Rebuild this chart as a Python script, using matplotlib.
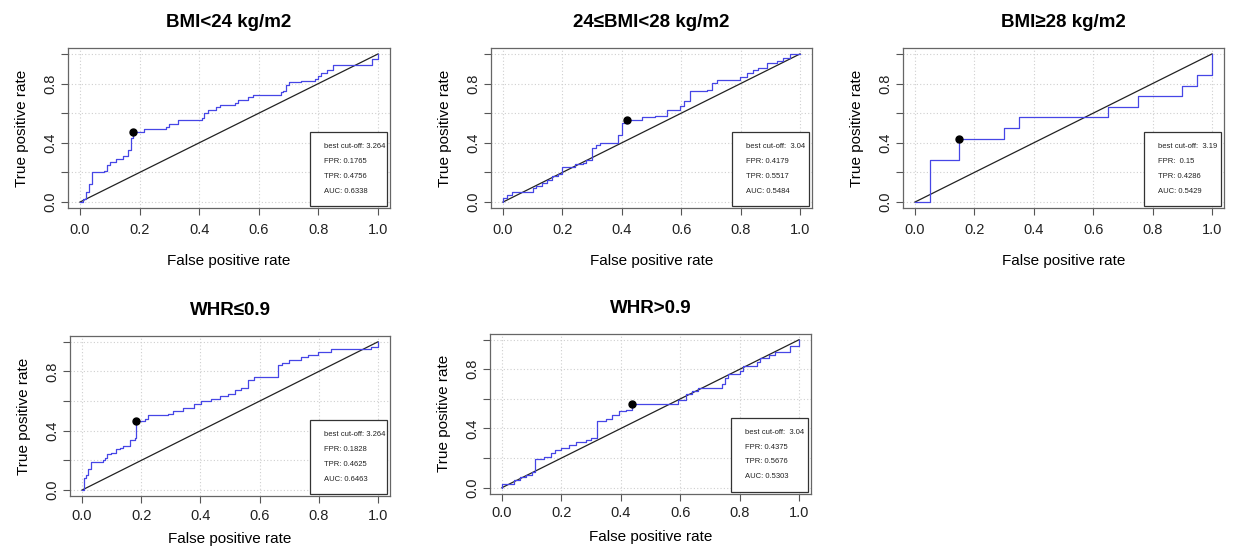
import matplotlib
matplotlib.use("Agg")
import matplotlib.pyplot as plt
from matplotlib.patches import Rectangle

plt.rcParams['font.family'] = ['Liberation Sans', 'DejaVu Sans']

# ---- data (fpr, tpr at the top of each vertical step) ----
titles = ["BMI<24 kg/m2", "24≤BMI<28 kg/m2", "BMI≥28 kg/m2", "WHR≤0.9", "WHR>0.9"]

fpr_bmi_lt24 = [0, 0.01, 0.02, 0.03, 0.04, 0.08, 0.09, 0.10, 0.12, 0.145, 0.16, 0.17, 0.172,
                0.1765, 0.215, 0.29, 0.30, 0.33, 0.41, 0.415, 0.43, 0.455, 0.47, 0.52, 0.53,
                0.565, 0.58, 0.675, 0.68, 0.69, 0.70, 0.74, 0.79, 0.80, 0.81, 0.83, 0.85,
                0.98, 1.0]
tpr_bmi_lt24 = [0, 0.02, 0.07, 0.12, 0.20, 0.21, 0.25, 0.27, 0.29, 0.31, 0.35, 0.39, 0.43,
                0.4756, 0.49, 0.51, 0.53, 0.555, 0.57, 0.60, 0.62, 0.64, 0.655, 0.67, 0.69,
                0.71, 0.72, 0.74, 0.75, 0.79, 0.81, 0.82, 0.83, 0.85, 0.87, 0.89, 0.925,
                0.965, 1.0]

fpr_bmi_24_28 = [0, 0, 0.012, 0.03, 0.10, 0.11, 0.13, 0.147, 0.165, 0.185, 0.20, 0.243, 0.27,
                 0.28, 0.30, 0.313, 0.325, 0.388, 0.40, 0.4179, 0.467, 0.512, 0.551, 0.596,
                 0.61, 0.63, 0.686, 0.703, 0.719, 0.798, 0.82, 0.843, 0.86, 0.888, 0.921,
                 0.944, 0.966, 1.0]
tpr_bmi_24_28 = [0, 0.027, 0.05, 0.068, 0.095, 0.11, 0.128, 0.15, 0.173, 0.19, 0.24, 0.257,
                 0.264, 0.286, 0.365, 0.387, 0.40, 0.455, 0.534, 0.5517, 0.572, 0.583, 0.62,
                 0.646, 0.68, 0.748, 0.759, 0.804, 0.827, 0.842, 0.872, 0.894, 0.905, 0.94,
                 0.95, 0.973, 1.0, 1.0]

fpr_bmi_ge28 = [0, 0.05, 0.15, 0.30, 0.35, 0.65, 0.75, 0.90, 0.95, 1.0]
tpr_bmi_ge28 = [0, 0.2857, 0.4286, 0.5, 0.5714, 0.6429, 0.7143, 0.7857, 0.8571, 1.0]

fpr_whr_le09 = [0, 0.007, 0.012, 0.02, 0.03, 0.07, 0.077, 0.086, 0.097, 0.116, 0.127, 0.139,
                0.161, 0.178, 0.1828, 0.212, 0.223, 0.29, 0.307, 0.341, 0.38, 0.403, 0.437,
                0.465, 0.493, 0.516, 0.538, 0.56, 0.58, 0.663, 0.675, 0.70, 0.741, 0.763,
                0.797, 0.842, 0.977, 1.0]
tpr_whr_le09 = [0, 0.083, 0.10, 0.14, 0.19, 0.20, 0.214, 0.24, 0.25, 0.275, 0.285, 0.30,
                0.336, 0.349, 0.4625, 0.477, 0.505, 0.516, 0.534, 0.556, 0.583, 0.60, 0.613,
                0.635, 0.65, 0.673, 0.69, 0.74, 0.765, 0.84, 0.86, 0.875, 0.895, 0.91,
                0.93, 0.95, 0.962, 1.0]

fpr_whr_gt09 = [0, 0, 0.04, 0.06, 0.08, 0.10, 0.111, 0.141, 0.164, 0.18, 0.197, 0.225, 0.248,
                0.282, 0.30, 0.321, 0.349, 0.371, 0.394, 0.416, 0.4375, 0.594, 0.62, 0.64,
                0.66, 0.74, 0.75, 0.76, 0.80, 0.81, 0.86, 0.87, 0.90, 0.92, 0.97, 1.0]
tpr_whr_gt09 = [0, 0.027, 0.05, 0.07, 0.085, 0.107, 0.193, 0.21, 0.232, 0.255, 0.266, 0.289,
                0.307, 0.323, 0.339, 0.448, 0.466, 0.493, 0.516, 0.527, 0.5676, 0.595, 0.63,
                0.65, 0.675, 0.70, 0.74, 0.77, 0.79, 0.82, 0.85, 0.875, 0.90, 0.92, 0.96, 1.0]

best_fpr = [0.1765, 0.4179, 0.15, 0.1828, 0.4375]
best_tpr = [0.4756, 0.5517, 0.4286, 0.4625, 0.5676]
cutoff_txt = ["3.264", " 3.04", " 3.19", "3.264", " 3.04"]
fpr_txt = ["0.1765", "0.4179", " 0.15", "0.1828", "0.4375"]
tpr_txt = ["0.4756", "0.5517", "0.4286", "0.4625", "0.5676"]
auc_txt = ["0.6338", "0.5484", "0.5429", "0.6463", "0.5303"]

curves = [(fpr_bmi_lt24, tpr_bmi_lt24), (fpr_bmi_24_28, tpr_bmi_24_28),
          (fpr_bmi_ge28, tpr_bmi_ge28), (fpr_whr_le09, tpr_whr_le09),
          (fpr_whr_gt09, tpr_whr_gt09)]

# axes rectangles (figure fraction)
rects = [(0.0552, 0.6225, 0.2611, 0.2904),
         (0.3983, 0.6225, 0.2602, 0.2904),
         (0.7324, 0.6225, 0.2602, 0.2904),
         (0.0569, 0.0998, 0.2593, 0.2907),
         (0.3975, 0.1042, 0.2602, 0.2900)]

fig = plt.figure(figsize=(12.33, 5.51), dpi=100)

for i, (fx, ty) in enumerate(curves):
    ax = fig.add_axes(rects[i])
    ax.set_xlim(-0.04, 1.04)
    ax.set_ylim(-0.04, 1.04)

    ticks = [0, 0.2, 0.4, 0.6, 0.8, 1.0]
    ax.set_xticks(ticks)
    ax.set_xticklabels(["0.0", "0.2", "0.4", "0.6", "0.8", "1.0"], fontsize=10.5)
    ax.set_yticks(ticks)
    ax.set_yticklabels(["0.0", "", "0.4", "", "0.8", ""], fontsize=10.5,
                       rotation=90, va='center')
    ax.tick_params(length=5, width=0.8, color='#555555', labelcolor='#222222')
    ax.tick_params(axis='x', pad=6 if i < 3 else 4)
    ax.tick_params(axis='y', pad=3)
    ax.grid(True, color='#cfcfcf', linestyle=(0, (1, 2)), linewidth=0.8)
    ax.set_axisbelow(True)
    for sp in ax.spines.values():
        sp.set_color('#666666')
        sp.set_linewidth(0.9)

    ax.plot([0, 1], [0, 1], color='#222222', linewidth=0.9)
    ax.plot(fx, ty, drawstyle='steps-post', color='#4646e6', linewidth=0.9)
    ax.plot(best_fpr[i], best_tpr[i], 'o', color='black', markersize=5)

    # bottom row labels sit right at the lower edge, as in the reference
    ax.set_xlabel("False positive rate", fontsize=11, labelpad=12 if i < 3 else 7)
    ax.set_ylabel("True positive rate", fontsize=11, labelpad=10)
    ax.set_title(titles[i], fontsize=13.5, fontweight='bold', pad=15)

    # result box in the lower right corner
    ax.add_patch(Rectangle((0.75, 0.013), 0.24, 0.462, transform=ax.transAxes,
                           facecolor='white', edgecolor='#333333', linewidth=0.9,
                           zorder=5))
    lines = ["best cut-off: " + cutoff_txt[i], "FPR: " + fpr_txt[i],
             "TPR: " + tpr_txt[i], "AUC: " + auc_txt[i]]
    for k, s in enumerate(lines):
        ax.text(0.795, 0.384 - k * 0.093, s, transform=ax.transAxes, fontsize=5.5,
                va='center', ha='left', color='#222222', zorder=6)

fig.savefig("out.png", dpi=100)
